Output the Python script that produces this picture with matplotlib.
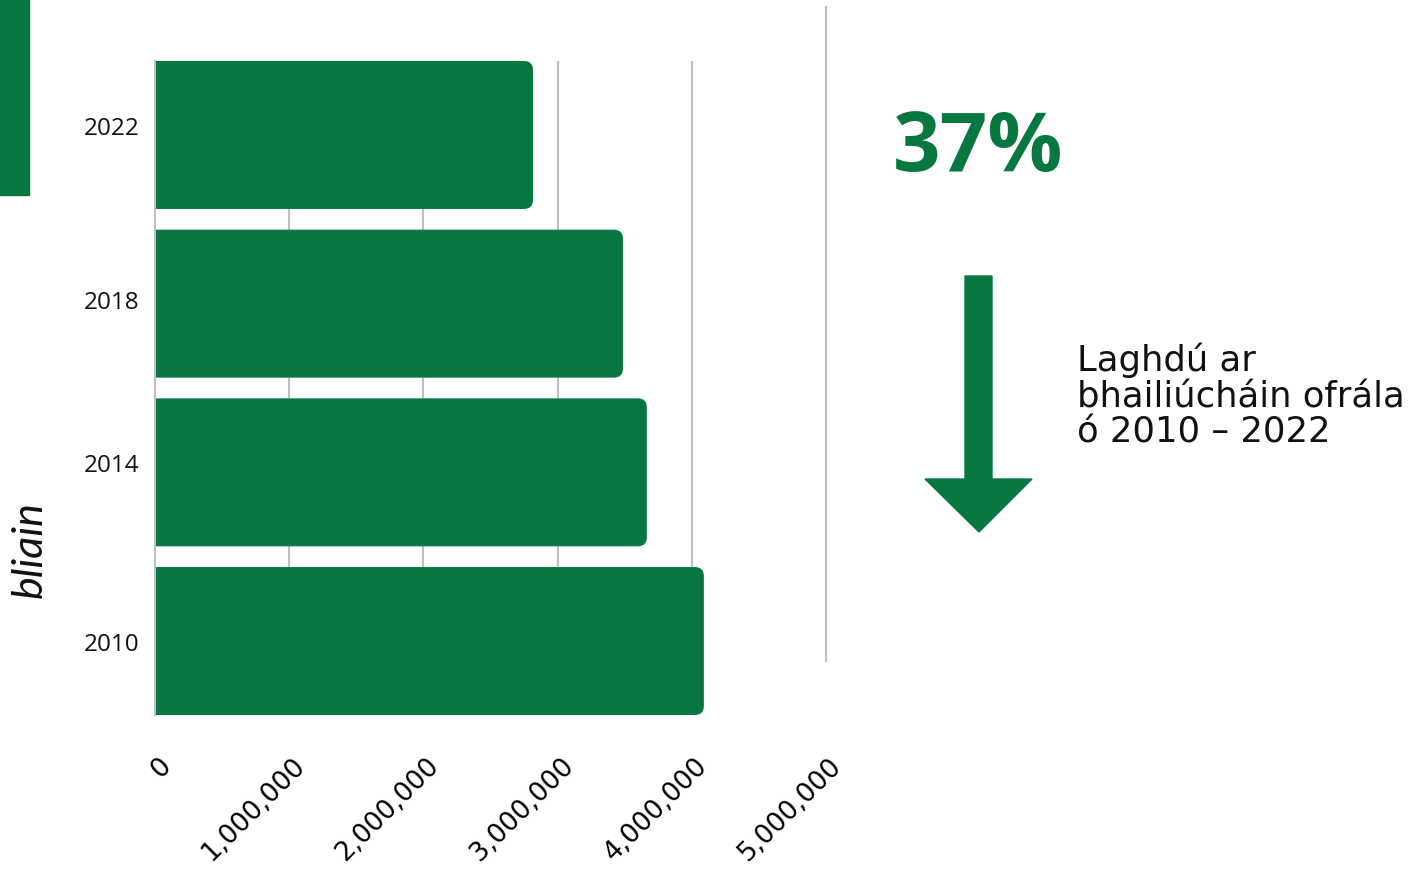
import matplotlib
matplotlib.use("Agg")
import matplotlib.pyplot as plt
from matplotlib.patches import Rectangle, Polygon, FancyBboxPatch
from matplotlib.lines import Line2D
from matplotlib.ticker import FuncFormatter
from matplotlib.transforms import ScaledTranslation

years = ["2010", "2014", "2018", "2022"]
collections = [4090000, 3665000, 3487000, 2817000]
xticks = [0, 1000000, 2000000, 3000000, 4000000, 5000000]
big_figure = "37%"
note = "Laghdú ar\nbhailiúcháin ofrála\nó 2010 – 2022"
ylabel = "bliain"

GREEN = "#06773E"
GRAY = "#BFBFBF"
W, H = 1423, 870

fig = plt.figure(figsize=(W / 100, H / 100), dpi=100)
ax = fig.add_axes([155 / W, 1 - 716 / H, (826 - 155) / W, (716 - 62) / H])

h = 0.877
ypos = list(range(len(years)))
ax.set_xlim(0, 5000000)
ax.set_ylim(-h / 2, len(years) - 1 + h / 2)
bars = ax.barh(ypos, collections, height=h, color=GREEN, linewidth=0, zorder=3)

# replace rectangles with right-rounded boxes (left side clipped at axis)
p0 = ax.transData.transform((0, 0))
p1 = ax.transData.transform((1, 1))
sx = p1[0] - p0[0]
sy = p1[1] - p0[1]
r = 9 / sx
for b in bars:
    b.set_visible(False)
    x0, y0 = b.get_x(), b.get_y()
    bw, bh = b.get_width(), b.get_height()
    fb = FancyBboxPatch((x0 - 2 * r, y0), bw + 2 * r, bh,
                        boxstyle=f"round,pad=0,rounding_size={r}",
                        mutation_aspect=sx / sy,
                        facecolor=GREEN, edgecolor="none", zorder=3)
    ax.add_patch(fb)

ax.set_xticks(xticks)
ax.xaxis.set_major_formatter(FuncFormatter(lambda v, p: f"{int(v):,}"))
ax.set_yticks([0, 1.06, 2.03, 3.06])
ax.set_yticklabels(years, fontsize=17.5, family="Open Sans", color="#111111")
ax.tick_params(axis="y", length=0, pad=11)
ax.tick_params(axis="x", length=0, pad=33)
off = ScaledTranslation(12 / 100, 0, fig.dpi_scale_trans)
for lab in ax.get_xticklabels():
    lab.set_rotation(45)
    lab.set_ha("right")
    lab.set_va("center")
    lab.set_rotation_mode("anchor")
    lab.set_fontsize(19)
    lab.set_family("DejaVu Sans")
    lab.set_transform(lab.get_transform() + off)
ax.grid(axis="x", color=GRAY, linewidth=1.5, zorder=0)
ax.xaxis.get_gridlines()[-1].set_visible(False)
ax.set_axisbelow(True)
for s in ["top", "right", "bottom"]:
    ax.spines[s].set_visible(False)
ax.spines["left"].set_color(GRAY)
ax.spines["left"].set_linewidth(1.5)
ax.spines["left"].set_zorder(4)

# decorations
fig.patches.append(Rectangle((0, 1 - 196 / H), 29 / W, 196 / H, transform=fig.transFigure,
                             color=GREEN))
fig.lines.append(Line2D([826 / W, 826 / W], [1 - 8 / H, 1 - 662 / H], transform=fig.transFigure,
                        color=GRAY, linewidth=1.5))
fig.text(30 / W, 1 - 550 / H, ylabel, rotation=90, ha="center", va="center",
         fontsize=31, style="italic", family="Lato", color="#111111")
fig.text(893 / W, 1 - 150 / H, big_figure, ha="left", va="center", fontsize=60,
         fontweight="bold", family="Open Sans", color=GREEN)
arrow = [(965, 277), (992, 277), (992, 480), (1032, 480), (979, 533), (925, 480), (965, 480)]
fig.patches.append(Polygon([(x / W, 1 - y / H) for x, y in arrow], closed=True,
                           transform=fig.transFigure, color=GREEN))
fig.text(1077 / W, 1 - 343 / H, note, ha="left", va="top", fontsize=25.5,
         family="DejaVu Sans", color="#111111", linespacing=1.06)

fig.savefig("out.png", dpi=100)
